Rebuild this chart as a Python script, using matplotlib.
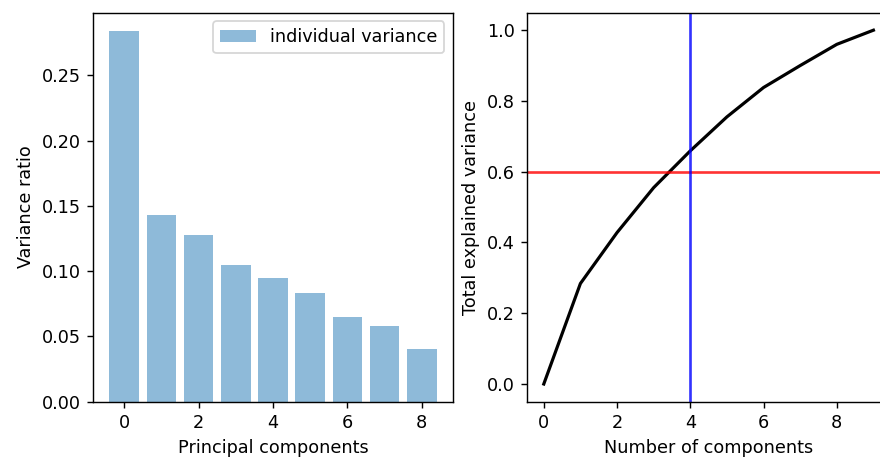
import numpy as np
import matplotlib.pyplot as plt

components = np.arange(9)
variance_ratio = [0.284, 0.143, 0.128, 0.105, 0.095, 0.083, 0.065, 0.058, 0.040]

n_components = np.arange(10)
total_variance = [0.0, 0.284, 0.428, 0.555, 0.659, 0.755, 0.838, 0.900, 0.960, 1.0]

threshold = 0.6
chosen = 4

DPI = 127
fig = plt.figure(figsize=(880 / DPI, 459 / DPI), dpi=DPI)
ax1 = fig.add_axes([93 / 880, 57.3 / 459, 360 / 880, 389.2 / 459])
ax2 = fig.add_axes([527.3 / 880, 57.3 / 459, 362.6 / 880, 389.2 / 459])

ax1.bar(components, variance_ratio, alpha=0.5, label='individual variance')
ax1.set_xlabel('Principal components')
ax1.set_ylabel('Variance ratio')
ax1.legend(loc='upper right')

ax2.plot(n_components, total_variance, 'k-', lw=1.8)
ax2.axhline(threshold, color='r', alpha=0.8)
ax2.axvline(chosen, color='b', alpha=0.8)
ax2.set_xlabel('Number of components')
ax2.set_ylabel('Total explained variance')
ax2.set_xlim(-0.45, 9.45)

plt.savefig('out.png', dpi=DPI)
